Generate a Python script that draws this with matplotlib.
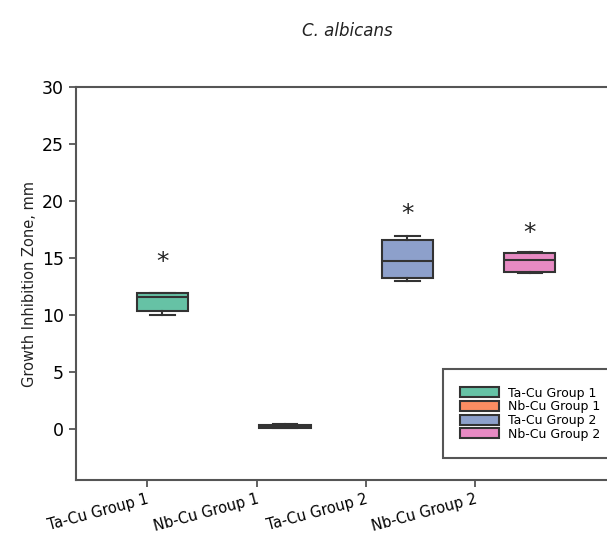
import matplotlib
matplotlib.use("Agg")
import matplotlib.pyplot as plt
from matplotlib.patches import Patch

groups = ["Ta-Cu Group 1", "Nb-Cu Group 1", "Ta-Cu Group 2", "Nb-Cu Group 2"]
whislo = [10.0, 0.1, 13.0, 13.7]
q1 = [10.3, 0.1, 13.2, 13.8]
med = [11.6, 0.2, 14.7, 14.8]
q3 = [11.9, 0.35, 16.6, 15.4]
whishi = [11.95, 0.4, 16.9, 15.5]
star_y = [14.6, None, 18.9, 17.2]
colors = ["#66c2a5", "#fc8d62", "#8da0cb", "#e78ac3"]
box_pos = [0, 1, 2, 3]
tick_pos = [-0.13, 0.77, 1.66, 2.55]

fig = plt.figure(figsize=(6.07, 5.35), dpi=100)
ax = fig.add_axes([0.125, 0.103, 0.893, 0.734])

stats = []
for i, g in enumerate(groups):
    stats.append(dict(label=g, whislo=whislo[i], q1=q1[i], med=med[i], q3=q3[i],
                      whishi=whishi[i], fliers=[]))
edge = "#333333"
bp = ax.bxp(stats, positions=box_pos, widths=0.42, patch_artist=True, showfliers=False,
            boxprops=dict(edgecolor=edge, linewidth=1.5),
            medianprops=dict(color=edge, linewidth=1.5),
            whiskerprops=dict(color=edge, linewidth=1.5),
            capprops=dict(color=edge, linewidth=1.5), capwidths=0.2)
for patch, c in zip(bp["boxes"], colors):
    patch.set_facecolor(c)

for p, s in zip(box_pos, star_y):
    if s is not None:
        ax.text(p, s, "*", ha="center", va="center", fontsize=18, color="#222222")

ax.set_xlim(-0.707, 3.72)
ax.set_ylim(-4.5, 30)
ax.set_yticks([0, 5, 10, 15, 20, 25, 30])
ax.set_xticks(tick_pos)
ax.set_xticklabels(groups, rotation=15, ha="right", va="top", rotation_mode="anchor",
                   fontsize=10.5)
ax.tick_params(axis="y", labelsize=12.5, length=5, width=1.3, color="#555555")
ax.tick_params(axis="x", length=5, width=1.3, color="#555555")
for sp in ["left", "top", "bottom"]:
    ax.spines[sp].set_color("#555555")
    ax.spines[sp].set_linewidth(1.5)
ax.spines["right"].set_visible(False)
ax.set_ylabel("Growth Inhibition Zone, mm", fontsize=10.5, color="#222222")
ax.set_title("C. albicans", fontstyle="italic", fontsize=12, pad=37, color="#222222")

handles = [Patch(facecolor=c, edgecolor=edge, linewidth=1.5, label=g) for g, c in zip(groups, colors)]
leg = ax.legend(handles=handles, loc="upper left", bbox_to_anchor=(0.677, 0.282),
                borderaxespad=0.0,
                fontsize=9, fancybox=False, framealpha=1, edgecolor="#555555",
                handlelength=3.1, handleheight=0.85, labelspacing=0.05, borderpad=1.4,
                handletextpad=0.7)
leg.get_frame().set_linewidth(1.5)

fig.savefig("out.png", dpi=100)
